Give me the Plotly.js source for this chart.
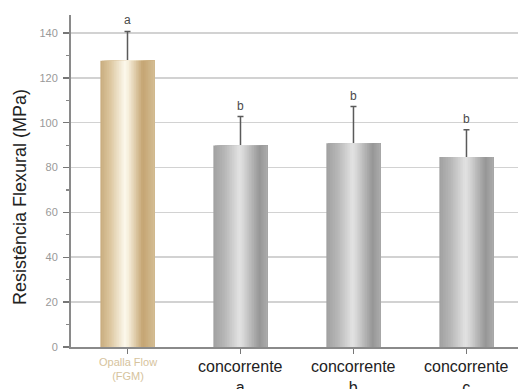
<!DOCTYPE html>
<html>
<head>
<meta charset="utf-8">
<script src="https://cdn.plot.ly/plotly-3.0.1.min.js"></script>
<style>html,body{margin:0;padding:0;background:#fff;}#chart{width:518px;height:389px;}</style>
</head>
<body>
<div id="chart"></div>
<script>
// ---- data ----
const categories = ["Opalla Flow<br>(FGM)", "concorrente<br>a", "concorrente<br>b", "concorrente<br>c"];
const values = [127.6, 89.8, 90.8, 84.7];
const errors = [13.1, 12.9, 16.4, 12.1];
const letters = ["a", "b", "b", "b"];
const yTickVals = [0, 20, 40, 60, 80, 100, 120, 140];

// ---- styles ----
const barWidth = 0.48;
const tanStops = [[0, [200,172,126]], [0.18, [220,198,158]], [0.45, [252,248,236]], [0.52, [246,238,218]], [0.78, [196,164,114]], [1, [212,190,148]]];
const grayStops = [[0, [160,160,160]], [0.2, [182,182,182]], [0.48, [226,226,226]], [0.56, [214,214,214]], [0.85, [150,150,150]], [1, [172,172,172]]];

function interp(stops, t) {
  for (let i = 0; i < stops.length - 1; i++) {
    const [t0, c0] = stops[i], [t1, c1] = stops[i + 1];
    if (t >= t0 && t <= t1) {
      const f = (t - t0) / (t1 - t0);
      const c = c0.map((v, k) => Math.round(v + (c1[k] - v) * f));
      return `rgb(${c[0]},${c[1]},${c[2]})`;
    }
  }
  const c = stops[stops.length - 1][1];
  return `rgb(${c[0]},${c[1]},${c[2]})`;
}

const traces = [];
// error bars first (lower half hidden behind the bar)
traces.push({
  type: 'bar',
  x: categories,
  y: values,
  width: barWidth,
  marker: { color: 'rgba(0,0,0,0)', line: { width: 0 } },
  error_y: { type: 'data', symmetric: true, array: errors, color: '#5a5a5a', thickness: 1.5, width: 3 },
  hoverinfo: 'skip',
  showlegend: false
});
const N = 32;
for (let i = 0; i < N; i++) {
  const t = (i + 0.5) / N;
  const w = barWidth / N;
  traces.push({
    type: 'bar',
    x: categories,
    y: values,
    width: categories.map(() => barWidth - i * w),
    offset: categories.map(() => -barWidth / 2 + i * w),
    marker: { color: categories.map((c, k) => k === 0 ? interp(tanStops, t) : interp(grayStops, t)), line: { width: 0 } },
    hoverinfo: 'skip',
    showlegend: false
  });
}

const annotations = [];
categories.forEach((c, k) => {
  annotations.push({
    x: c, xref: 'x', y: values[k] + errors[k], yref: 'y',
    text: letters[k], showarrow: false, yanchor: 'middle', yshift: 11,
    font: { family: 'Liberation Sans, Arial, sans-serif', size: 12, color: '#4a4a4a' }
  });
  annotations.push({
    x: c, xref: 'x', y: 0, yref: 'paper',
    text: c, showarrow: false, yanchor: 'top', yshift: k === 0 ? -7 : -9,
    font: k === 0 ? { family: 'Liberation Sans, Arial, sans-serif', size: 11, color: '#d6c39d' }
                  : { family: 'Liberation Sans, Arial, sans-serif', size: 16, color: '#222' }
  });
});
annotations.push({
  x: 0, xref: 'paper', xanchor: 'center', xshift: -51,
  y: 0.5, yref: 'paper', yanchor: 'middle', yshift: -16,
  text: 'Resistência Flexural (MPa)', textangle: -90, showarrow: false,
  font: { family: 'Liberation Sans, Arial, sans-serif', size: 18, color: '#222' }
});

const layout = {
  width: 518, height: 389,
  margin: { l: 71, r: 0, t: 15, b: 42 },
  paper_bgcolor: '#fff', plot_bgcolor: '#fff',
  barmode: 'overlay',
  showlegend: false,
  xaxis: {
    type: 'category', range: [-0.5, 3.456],
    showticklabels: false, ticks: 'outside', ticklen: 5, tickwidth: 1.5, tickcolor: '#777',
    showline: true, linecolor: '#8a8a8a', linewidth: 2, showgrid: false, zeroline: false
  },
  yaxis: {
    range: [0, 148], tickvals: yTickVals,
    ticks: 'outside', ticklen: 6, tickwidth: 1.5, tickcolor: '#777',
    minor: { dtick: 10, ticks: 'outside', ticklen: 3, tickwidth: 1.2, tickcolor: '#888', showgrid: false },
    tickfont: { family: 'Liberation Sans, Arial, sans-serif', size: 11, color: '#999' },
    ticklabelstandoff: 3,
    showline: true, linecolor: '#8a8a8a', linewidth: 2,
    showgrid: true, gridcolor: '#d2d2d2', gridwidth: 1.6, zeroline: false
  },
  annotations: annotations
};

Plotly.newPlot('chart', traces, layout, { displayModeBar: false, staticPlot: true });
</script>
</body>
</html>
